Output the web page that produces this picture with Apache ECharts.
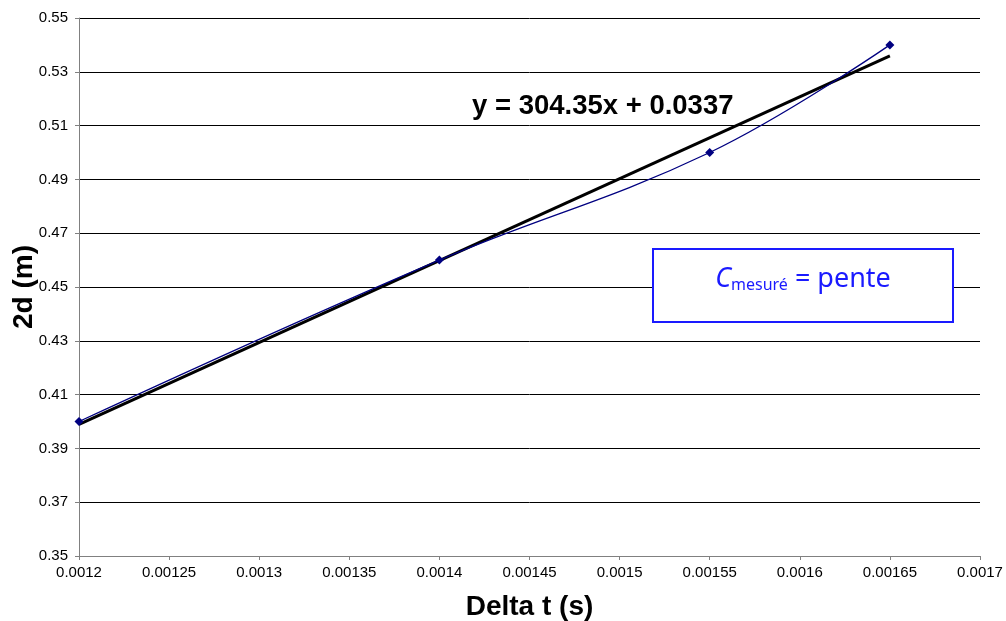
<!DOCTYPE html>
<html>
<head>
<meta charset="utf-8">
<script src="https://cdn.jsdelivr.net/npm/echarts@6/dist/echarts.min.js"></script>
<style>html,body{margin:0;padding:0;background:#fff}#c{width:1006px;height:621px}</style>
</head>
<body>
<div id="c"></div>
<script>
// Data
var deltaT = [0.0012, 0.0014, 0.00155, 0.00165];
var twoD = [0.40, 0.46, 0.50, 0.54];
// Linear trendline y = 304.35x + 0.0337, endpoints at first/last x
var trendX = [0.0012, 0.00165];
var trendY = [0.39892, 0.53588];
var equationText = 'y = 304.35x + 0.0337';
var xTitle = 'Delta t (s)';
var yTitle = '2d (m)';

var measured = deltaT.map(function (x, i) { return [x, twoD[i]]; });
var trend = trendX.map(function (x, i) { return [x, trendY[i]]; });

var chart = echarts.init(document.getElementById('c'), null, {renderer: 'canvas'});
var font = 'Liberation Sans, Arial, Helvetica, sans-serif';
var comic = '"Comic Sans MS", "Noto Sans", sans-serif';
chart.setOption({
  animation: false,
  backgroundColor: '#fff',
  grid: {left: 79, right: 26, top: 18, bottom: 65, containLabel: false, outerBoundsMode: 'none'},
  xAxis: {
    type: 'value', min: 0.0012, max: 0.0017, interval: 0.00005,
    name: xTitle, nameLocation: 'middle', nameGap: 37,
    nameTextStyle: {fontFamily: font, fontWeight: 'bold', fontSize: 28, color: '#000'},
    axisLine: {show: true, lineStyle: {color: '#808080', width: 1}},
    axisTick: {show: true, length: 4, lineStyle: {color: '#808080'}},
    axisLabel: {fontFamily: font, fontSize: 15, color: '#000', margin: 9,
      formatter: function (v) { return String(parseFloat(v.toFixed(6))); }},
    splitLine: {show: false}
  },
  yAxis: {
    type: 'value', min: 0.35, max: 0.55, interval: 0.02,
    name: yTitle, nameLocation: 'middle', nameGap: 41, nameRotate: 90,
    nameMoveOverlap: false,
    nameTextStyle: {fontFamily: font, fontWeight: 'bold', fontSize: 28, color: '#000'},
    axisLine: {show: true, lineStyle: {color: '#808080', width: 1}},
    axisTick: {show: true, inside: false, length: 4, lineStyle: {color: '#808080'}},
    axisLabel: {fontFamily: font, fontSize: 15, color: '#000', margin: 11,
      formatter: function (v) { return v.toFixed(2); }},
    splitLine: {show: true, lineStyle: {color: '#000', width: 1}}
  },
  series: [
    {
      type: 'line', data: trend, symbol: 'none', z: 3,
      lineStyle: {color: '#000', width: 3}
    },
    {
      type: 'line', data: measured, smooth: 0.4, z: 4,
      symbol: 'diamond', symbolSize: 9,
      itemStyle: {color: '#000080'},
      lineStyle: {color: '#000080', width: 1.3}
    }
  ],
  graphic: [
    {
      type: 'text', left: 472, top: 92, z: 10,
      style: {text: equationText, font: 'bold 27.5px ' + font, fill: '#000'}
    },
    {
      type: 'rect', shape: {x: 653, y: 249, width: 300, height: 73}, z: 10,
      style: {fill: '#fff', stroke: '#1a1aff', lineWidth: 2}
    },
    {
      type: 'text', x: 803, y: 279, z: 11,
      style: {
        text: '{c|C}{s|mesuré}{n| = pente}',
        align: 'center', verticalAlign: 'middle',
        fill: '#1a1aff',
        rich: {
          c: {fontFamily: comic, fontStyle: 'italic', fontSize: 27, fill: '#1a1aff'},
          s: {fontFamily: comic, fontSize: 16, fill: '#1a1aff', padding: [13, 0, 0, 0]},
          n: {fontFamily: comic, fontSize: 27, fill: '#1a1aff'}
        }
      }
    }
  ]
});
</script>
</body>
</html>
